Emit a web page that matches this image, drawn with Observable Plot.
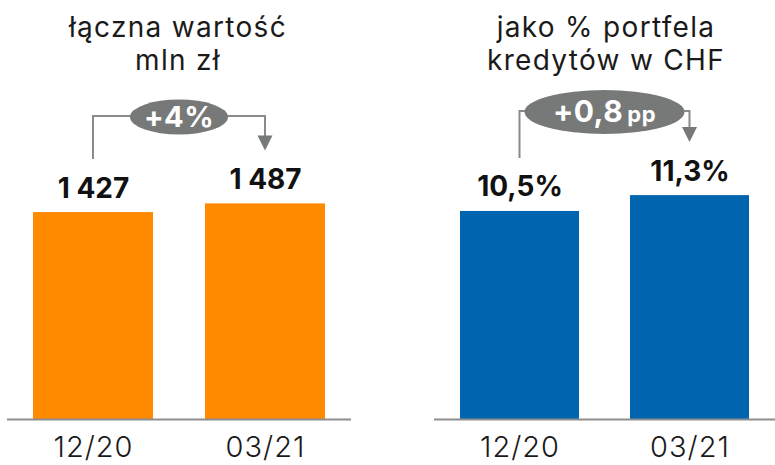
<!DOCTYPE html>
<html>
<head>
<meta charset="utf-8">
<script src="https://cdn.jsdelivr.net/npm/d3@7"></script>
<script src="https://cdn.jsdelivr.net/npm/@observablehq/plot@0.6"></script>
<style>
  html, body { margin: 0; padding: 0; background: #fff; }
  #wrap { position: relative; width: 775px; height: 465px; overflow: hidden; font-family: Inter, "Open Sans", sans-serif; }
  .title { position: absolute; top: 11px; width: 360px; text-align: center; font-size: 28px; line-height: 33px; color: #1a1a1a; font-weight: 400; letter-spacing: 1.3px; }
  .panel { position: absolute; top: 80px; }
  .panel svg { overflow: visible; }
  .panel svg g[aria-label="x-axis tick label"] text { font-weight: 300; letter-spacing: 1px; }
</style>
</head>
<body>
<div id="wrap">
  <div class="title" id="t1" style="left:-2px"></div>
  <div class="title" id="t2" style="left:426px"></div>
  <div class="panel" id="p1" style="left:0px"></div>
  <div class="panel" id="p2" style="left:415px"></div>
</div>
<script>
// ---- data ----
const periods = ["12/20", "03/21"];
const totalValues = [1427, 1487];
const shareValues = [10.5, 11.3];
const totalLabels = ["1 427", "1 487"];
const shareLabels = ["10,5%", "11,3%"];
const changeMain = ["+4%", "+0,8"];
const changeUnit = ["", "pp"];
const titleLeft = ["łączna wartość", "mln zł"];
const titleRight = ["jako % portfela", "kredytów w CHF"];

document.getElementById("t1").innerHTML = titleLeft.join("<br>");
document.getElementById("t2").innerHTML = titleRight.join("<br>");

const GRAY = "#777979";
const LINE = "#8a8a8a";

function annotation(values, level, main, unit, ew, eh, fs) {
  return (index, scales) => {
    const x = scales.x, y = scales.y;
    const bw = x.bandwidth();
    const x1 = x(periods[0]) + bw / 2;
    const x2 = x(periods[1]) + bw / 2;
    const y1 = y(values[0]) - 53;
    const y2 = y(values[1]) - 53;
    const cx = (x1 + x2) / 2;
    const g = d3.create("svg:g");
    g.append("path")
      .attr("d", `M${x1},${y1}V${level}H${x2}V${y2 - 14}`)
      .attr("fill", "none").attr("stroke", LINE).attr("stroke-width", 2);
    g.append("path")
      .attr("d", `M${x2 - 7.5},${y2 - 15}L${x2 + 7.5},${y2 - 15}L${x2},${y2}Z`)
      .attr("fill", GRAY);
    g.append("ellipse")
      .attr("cx", cx).attr("cy", level + 1)
      .attr("rx", ew).attr("ry", eh)
      .attr("fill", GRAY);
    const t = g.append("text")
      .attr("x", cx).attr("y", level + 1).attr("dy", "0.36em")
      .attr("text-anchor", "middle").attr("fill", "#fff")
      .attr("font-weight", 700).attr("font-family", "Inter, sans-serif")
      .attr("letter-spacing", "0.5px");
    t.append("tspan").attr("font-size", fs).text(main);
    if (unit) t.append("tspan").attr("font-size", 22).attr("dx", 4).text(unit);
    return g.node();
  };
}

function panel(values, labels, color, yMax, opts) {
  const data = periods.map((p, i) => ({period: p, value: values[i], label: labels[i]}));
  return Plot.plot({
    width: 360,
    height: 385,
    marginTop: 20,
    marginBottom: 46,
    marginLeft: opts.ml,
    marginRight: opts.mr,
    style: {fontFamily: "Inter, sans-serif", fontSize: "29px", color: "#1a1a1a", background: "transparent", overflow: "visible"},
    x: {domain: periods, paddingInner: 0.3, paddingOuter: 0.15, tickSize: 0, tickPadding: 17, label: null},
    y: {domain: [0, yMax], axis: null},
    marks: [
      Plot.barY(data, {x: "period", y: "value", fill: color}),
      Plot.ruleY([0], {stroke: "#8e8e8e", strokeWidth: 2}),
      Plot.text(data, {x: "period", y: "value", text: "label", dy: -15, lineAnchor: "bottom",
        fontSize: 28, fontWeight: 700, fill: "#111"}),
      annotation(values, opts.level, opts.main, opts.unit, opts.ew, opts.eh, opts.fs)
    ]
  });
}

const p1 = panel(totalValues, totalLabels, "#FF8A00", 2200,
  {ml: 7, mr: 9, level: 36, main: changeMain[0], unit: changeUnit[0], ew: 49, eh: 17.5, fs: 29});
const p2 = panel(shareValues, shareLabels, "#0064AF", 16.1,
  {ml: 19, mr: 0, level: 31, main: changeMain[1], unit: changeUnit[1], ew: 80, eh: 22, fs: 30});
document.getElementById("p1").appendChild(p1);
document.getElementById("p2").appendChild(p2);
</script>
</body>
</html>
